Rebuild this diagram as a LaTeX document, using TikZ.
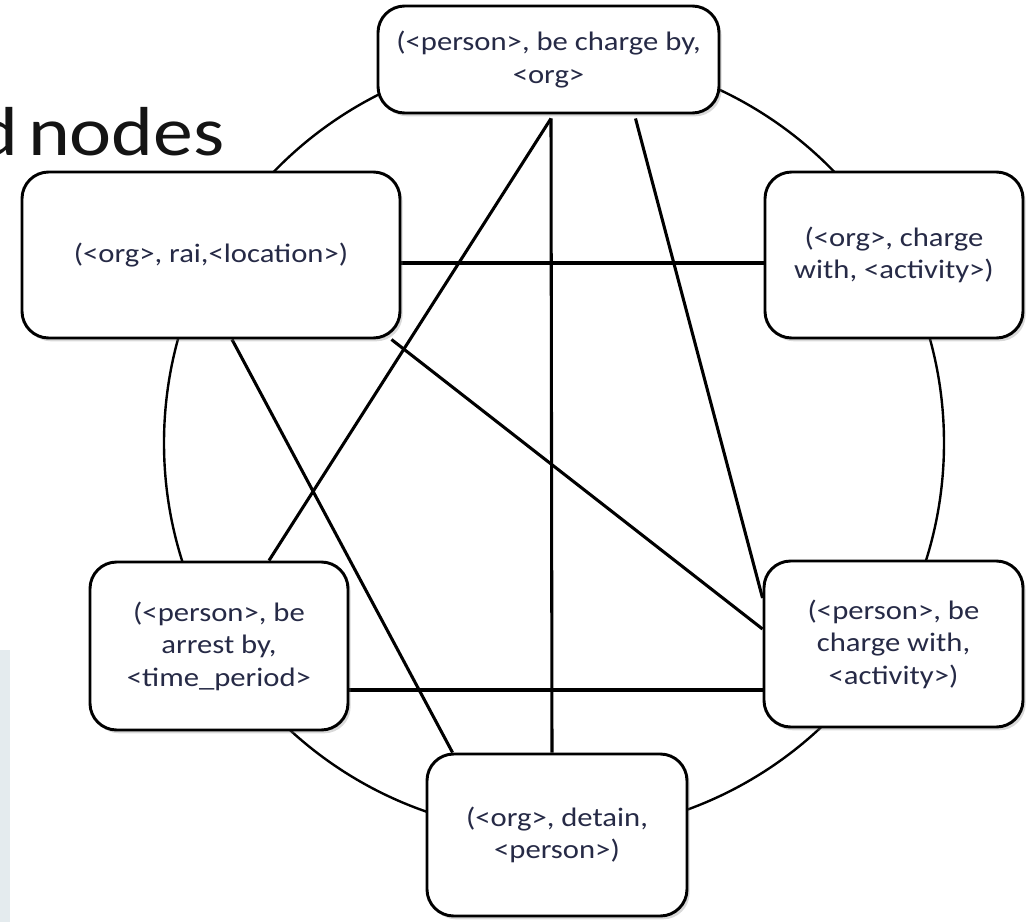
\documentclass[tikz,border=0pt]{standalone}
\usepackage{fontspec}
\setmainfont{Carlito}[FakeStretch=1.15]
\usetikzlibrary{calc,shadows}
\definecolor{txt}{RGB}{38,42,70}
\definecolor{fringe}{RGB}{228,235,238}
\pgfdeclarelayer{bg}
\pgfsetlayers{bg,main}
\begin{document}
\begin{tikzpicture}[x=0.75pt,y=-0.75pt,
  box/.style={draw=black, line width=2.2pt, rounded corners=20pt, fill=white,
    align=center, text=txt, font=\fontsize{20}{24.4}\selectfont, inner sep=0pt,
    drop shadow={shadow xshift=2pt,shadow yshift=-2.5pt,opacity=0.3}},
  conn/.style={line width=2.3pt},
  ring/.style={line width=1.8pt}]
\useasboundingbox (0,0) rectangle (1033,922);
\begin{scope}
\clip (0,0) rectangle (1033,922);
\node[anchor=base east, inner sep=0pt, text=black!92,
  font=\fontsize{52}{60}\selectfont] (title) at (225,155) {\spaceskip=7pt d nodes};
\end{scope}

\node[box, minimum width=255.75pt, minimum height=80.25pt] (top) at (548.5,59.5)
  {(<person>, be charge by,\\<org>};
\node[box, minimum width=283.5pt, minimum height=124.5pt] (lt) at (211,255)
  {(<org>, rai,<location>)};
\node[box, minimum width=193.5pt, minimum height=124.5pt] (rt) at (894,255)
  {(<org>, charge\\with, <activity>)};
\node[box, minimum width=194.25pt, minimum height=124.5pt] (rb) at (893.5,644)
  {(<person>, be\\charge with,\\<activity>)};
\node[box, minimum width=193.5pt, minimum height=126pt] (lb) at (219,646)
  {(<person>, be\\arrest by,\\<time\_period>};
\node[box, minimum width=195pt, minimum height=121.5pt] (bt) at (557,835)
  {(<org>, detain,\\<person>)};

\begin{pgfonlayer}{bg}
\fill[fringe] (0,650) rectangle (10,922);
\draw[ring] (554,443) circle[radius=292.5pt];
\draw[conn] ($(top.south)+(2.5,4)$) -- ($(bt.north)+(-5,0)$);
\draw[conn] ($(top.south)+(2.5,4)$) -- ($(lb.north)+(50,0)$);
\draw[conn] ($(top.south)+(87,4)$) -- ($(rb.west)+(0,-46)$);
\draw[conn] ($(lt.east)+(0,8)$) -- ($(rt.west)+(0,8)$);
\draw[conn] ($(lt.south east)+(-10,0)$) -- ($(rb.west)+(0,-15)$);
\draw[conn] ($(lt.south)+(21,0)$) -- ($(bt.north west)+(27,0)$);
\draw[conn] ($(lb.east)+(0,44)$) -- ($(rb.west)+(0,46)$);
\end{pgfonlayer}
\end{tikzpicture}
\end{document}
